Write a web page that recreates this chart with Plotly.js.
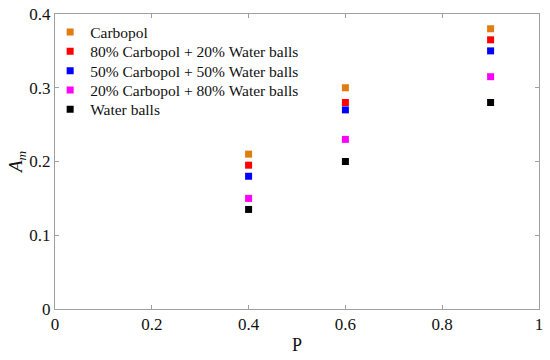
<!DOCTYPE html>
<html><head><meta charset="utf-8">
<script src="https://cdn.plot.ly/plotly-3.0.1.min.js"></script>
<style>html,body{margin:0;padding:0;background:#fff}</style>
</head><body><div id="chart" style="width:550px;height:360px"></div>
<script>
const xP = [0.4, 0.6, 0.9];
const names = ["Carbopol", "80% Carbopol + 20% Water balls", "50% Carbopol + 50% Water balls", "20% Carbopol + 80% Water balls", "Water balls"];
const carbopol = [0.21, 0.30, 0.38];
const c80w20 = [0.195, 0.28, 0.365];
const c50w50 = [0.18, 0.27, 0.35];
const c20w80 = [0.15, 0.23, 0.315];
const waterBalls = [0.135, 0.20, 0.28];
const xTicks = [0, 0.2, 0.4, 0.6, 0.8, 1];
const yTicks = [0, 0.1, 0.2, 0.3, 0.4];
const series = [carbopol, c80w20, c50w50, c20w80, waterBalls];
const colors = ["#e07c10", "#ff0000", "#0000ff", "#ff00ff", "#000000"];
const FONT = "'Times New Roman', 'Liberation Serif', serif";
const traces = series.map((ys, i) => ({
  x: xP, y: ys, name: names[i], type: "scatter", mode: "markers",
  marker: {symbol: "square", size: 7, color: colors[i]}
}));
const axisCommon = {
  showline: true, linecolor: "#a0a0a0", linewidth: 1, mirror: "ticks",
  ticks: "inside", ticklen: 4, tickcolor: "#a0a0a0", showgrid: false, zeroline: false,
  tickfont: {family: FONT, size: 17, color: "#111"}
};
const layout = {
  width: 550, height: 360,
  font: {family: FONT},
  margin: {l: 55, r: 11, t: 14, b: 51},
  paper_bgcolor: "#fff", plot_bgcolor: "#fff",
  showlegend: true,
  legend: {x: -0.01, y: 0.995, xanchor: "left", yanchor: "top", bgcolor: "rgba(0,0,0,0)",
    font: {family: FONT, size: 15.5, color: "#111"},
    itemwidth: 30, tracegroupgap: 0},
  xaxis: Object.assign({}, axisCommon, {range: [0, 1], tickvals: xTicks, ticktext: xTicks.map(String),
    title: {text: "P", font: {family: FONT, size: 18, color: "#111"}, standoff: 4}}),
  yaxis: Object.assign({}, axisCommon, {range: [0, 0.4], tickvals: yTicks, ticktext: yTicks.map(String),
    title: {text: "<i>A</i><sub><i>m</i></sub>", font: {family: FONT, size: 19, color: "#111"}, standoff: 0}})
};
Plotly.newPlot("chart", traces, layout, {displayModeBar: false, staticPlot: true}).then(() => {
  // tighten legend row spacing to match the reference
  const items = document.querySelectorAll("#chart .legend .traces");
  let y0 = null;
  items.forEach((g, i) => {
    const t = g.getAttribute("transform") || "";
    const m = t.match(/translate\(([-\d.]+)[ ,]*([-\d.]+)\)/);
    if (!m) return;
    const x = parseFloat(m[1]), y = parseFloat(m[2]);
    if (y0 === null) y0 = y;
    g.setAttribute("transform", "translate(" + x + "," + (y0 + i * 19.3) + ")");
  });
});
</script></body></html>
